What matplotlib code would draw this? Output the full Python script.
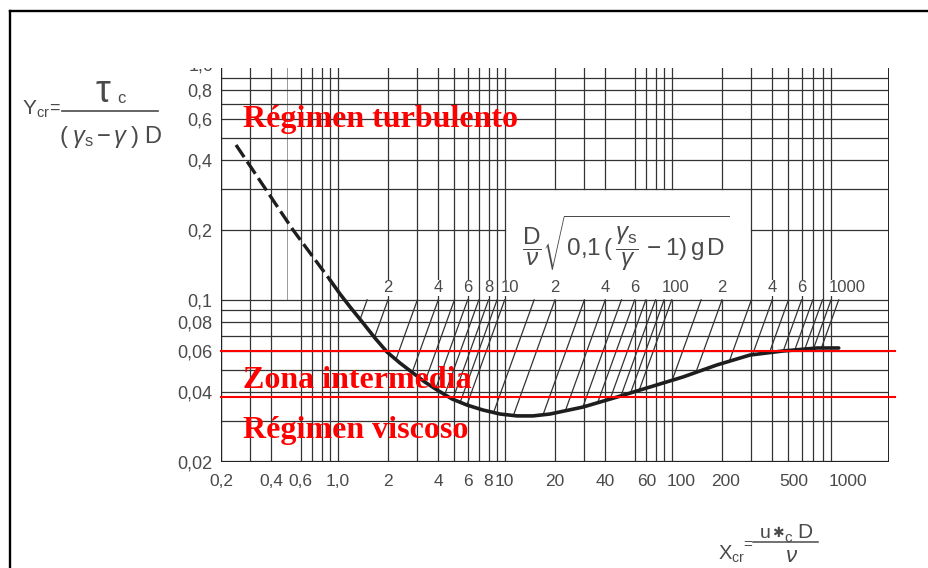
import numpy as np
import matplotlib
matplotlib.use("Agg")
import matplotlib.pyplot as plt
from matplotlib.lines import Line2D
from matplotlib.ticker import NullLocator
from matplotlib.transforms import (Bbox, TransformedBbox,
                                   blended_transform_factory, ScaledTranslation)

# ---------------------------------------------------------------- data
# Shields curve: critical Shields parameter Y_cr against X_cr = u*c D / nu
dashed_x = [0.246, 0.54, 0.9]
dashed_y = [0.465, 0.20, 0.1217]
solid_x = [0.9, 1.032, 1.185, 1.417, 1.672, 1.972, 2.36, 2.82, 3.33, 3.93,
           4.83, 5.94, 7.41, 9.37, 11.85, 14.77, 18.66, 29.4, 47.0, 74.1,
           116.8, 186.6, 294, 464, 741, 1000]
solid_y = [0.1217, 0.106, 0.0932, 0.0795, 0.0684, 0.0596, 0.0534, 0.0484,
           0.0442, 0.0409, 0.0374, 0.0352, 0.0335, 0.0322, 0.0316, 0.0316,
           0.0322, 0.0345, 0.0381, 0.0421, 0.0465, 0.0524, 0.0578, 0.0602,
           0.062, 0.062]

# auxiliary parameter  D/nu * sqrt(0.1 (gs/g - 1) g D)
aux_values = [1.5, 2, 3, 4, 5, 6, 7, 8, 9, 10, 15, 20, 30, 40, 50, 60, 70,
              80, 90, 100, 150, 200, 300, 400, 500, 600, 700, 800, 900, 1000]
aux_label_values = [2, 4, 6, 8, 10, 20, 40, 60, 100, 200, 400, 600, 1000]
aux_label_texts = ["2", "4", "6", "8", "10", "2", "4", "6", "100", "2", "4",
                   "6", "1000"]
aux_base = 0.1

# axis ticks
x_ticks = [0.2, 0.4, 0.6, 1.0, 2, 4, 6, 8, 10, 20, 40, 60, 100, 200, 500, 1000]
x_tick_labels = ["0,2", "0,4", "0,6", "1,0", "2", "4", "6", "8", "10", "20",
                 "40", "60", "100", "200", "500", "1000"]
y_ticks = [0.02, 0.04, 0.06, 0.08, 0.1, 0.2, 0.4, 0.6, 0.8]
y_tick_labels = ["0,02", "0,04", "0,06", "0,08", "0,1", "0,2", "0,4", "0,6",
                 "0,8"]

# regime limits and names
regime_limits = [0.06, 0.038]
regime_names = ["Régimen turbulento", "Zona intermedia", "Régimen viscoso"]

# ---------------------------------------------------------------- style
W, H, DPI = 929, 568, 100
INK = "#333333"
TXT = "#4a4a4a"
FAMILY = ["Liberation Sans", "DejaVu Sans"]

plt.rcParams["font.family"] = FAMILY
plt.rcParams["mathtext.fontset"] = "custom"
plt.rcParams["mathtext.rm"] = "Liberation Sans"
plt.rcParams["mathtext.it"] = "Liberation Sans:italic"
plt.rcParams["mathtext.bf"] = "Liberation Sans:bold"
plt.rcParams["mathtext.sf"] = "Liberation Sans"

fig = plt.figure(figsize=(W / DPI, H / DPI), dpi=DPI)
fig.patch.set_facecolor("white")


def fx(px):
    return px / W


def fy(py):
    return 1 - py / H


def shift(dx_px, dy_px=0):
    return ScaledTranslation(dx_px / DPI, -dy_px / DPI, fig.dpi_scale_trans)


ax = fig.add_axes([fx(221), fy(462), (889 - 221) / W, (462 - 68) / H])
ax.set_xscale("log")
ax.set_yscale("log")
ax.set_xlim(0.2, 2000)
ax.set_ylim(0.02, 0.998)
for s in ax.spines.values():
    s.set_visible(False)

ax.set_xticks(x_ticks, [""] * len(x_ticks))
ax.set_yticks(y_ticks, y_tick_labels)
ax.xaxis.set_minor_locator(NullLocator())
ax.yaxis.set_minor_locator(NullLocator())
ax.tick_params(axis="both", length=0, labelcolor=TXT, labelsize=13)
ax.tick_params(axis="y", pad=6)

# x tick labels (the printed scale sets a few of them slightly to the right)
xlabel_offsets_px = {60: 12, 100: 9, 200: 4, 500: 5, 1000: 9}
xl_tr = blended_transform_factory(ax.transData, ax.transAxes)
for v, t in zip(x_ticks, x_tick_labels):
    ax.text(v, 0, t, ha="center", va="center", fontsize=12.5, color=TXT,
            transform=xl_tr + shift(xlabel_offsets_px.get(v, 0), 20),
            clip_on=False)

# ---------------------------------------------------------------- grid
box_x = (10, 300)      # auxiliary-scale box between 0.1 and 0.3
grid_x = []
for dec in [0.1, 1, 10, 100]:
    for m in range(1, 10):
        v = round(m * dec, 6)
        if 0.2 <= v <= 1000 and v not in (0.5, 50):
            grid_x.append(v)
grid_x = sorted(set(grid_x))

for v in grid_x:
    if box_x[0] < v < box_x[1]:
        ax.plot([v, v], [0.02, 0.1], color=INK, lw=0.9, zorder=1)
        ax.plot([v, v], [0.3, 1.0], color=INK, lw=0.9, zorder=1)
    else:
        ax.axvline(v, color=INK, lw=0.9, zorder=1)
# faint printed line at 0.5 in the upper part only
ax.plot([0.5, 0.5], [0.1, 1.0], color="#9a9a9a", lw=0.7, zorder=1)

grid_y = [0.03, 0.04, 0.05, 0.06, 0.07, 0.08, 0.09, 0.1,
          0.3, 0.4, 0.5, 0.6, 0.7, 0.8, 0.9]
for v in grid_y:
    ax.axhline(v, color=INK, lw=0.9, zorder=1)
ax.plot([0.2, box_x[0]], [0.2, 0.2], color=INK, lw=0.9, zorder=1)
ax.plot([box_x[1], 2000], [0.2, 0.2], color=INK, lw=0.9, zorder=1)

# frame of the chart area
ax.axvline(0.2, color="#222222", lw=1.6, zorder=2)
ax.axvline(2000, color="#222222", lw=1.4, zorder=2)
ax.axhline(0.02, color="#222222", lw=1.6, zorder=2)

# ---------------------------------------------------------------- curve
curve_x = np.array(dashed_x[:-1] + solid_x)
curve_y = np.array(dashed_y[:-1] + solid_y)
lcx, lcy = np.log10(curve_x), np.log10(curve_y)

# auxiliary lines Y = 0.1 (X / P)^2 from the 0.1 line down to the curve
for p in aux_values:
    xs = np.logspace(np.log10(p), np.log10(p) - 1.5, 3000)
    line = aux_base * (xs / p) ** 2
    curve = 10 ** np.interp(np.log10(xs), lcx, lcy)
    below = np.nonzero(line <= curve)[0]
    end = below[0] if below.size else len(xs) - 1
    ax.plot([p, xs[end]], [aux_base, line[end]], color=INK, lw=0.9, zorder=2)

ax.plot(dashed_x, dashed_y, color="#1e1e1e", lw=2.4, dashes=(4.4, 1.6),
        zorder=4)
ax.plot(solid_x, solid_y, color="#1e1e1e", lw=2.6, solid_capstyle="round",
        solid_joinstyle="round", zorder=4)

# auxiliary-scale labels
aux_offsets_px = {10: 5, 100: 4, 1000: 9}
for v, t in zip(aux_label_values, aux_label_texts):
    ax.text(v, 0.1125, t, ha="center", va="center", fontsize=12, color=TXT,
            transform=ax.transData + shift(aux_offsets_px.get(v, 0)),
            zorder=5, bbox=dict(facecolor="white", edgecolor="none", pad=0.6))

# regime limits (extend slightly past the chart frame)
tr = blended_transform_factory(ax.transAxes, ax.transData)
for v in regime_limits:
    ax.plot([0, (895 - 221) / 668], [v, v], color="#ff0000", lw=1.5,
            transform=tr, clip_on=False, zorder=6)

# ---------------------------------------------------------------- texts
name_baselines = [127, 388, 438]
for name, yb in zip(regime_names, name_baselines):
    fig.text(fx(243), fy(yb), name, ha="left", va="baseline",
             family="Liberation Serif", weight="bold", size=23,
             color="#ff0000", zorder=10)

# clipped top label of the y scale
top_lbl = fig.text(fx(214), fy(66), "1,0", ha="right", va="center",
                   size=13, color=TXT)
top_lbl.set_clip_box(TransformedBbox(Bbox.from_extents(0, 0, 1, fy(68)),
                                     fig.transFigure))
top_lbl.set_clip_on(True)

# auxiliary parameter formula inside the box
fig.text(fx(626), fy(243),
         r"$\dfrac{\mathrm{D}}{\nu}\sqrt{0{,}1\,(\,\dfrac{\gamma_{\mathrm{s}}}"
         r"{\gamma}\,-1)\,\mathrm{g\,D}}$",
         ha="center", va="center", size=17.5, color=TXT)

# Y_cr = tau_c / ((gamma_s - gamma) D)
fig.text(fx(22), fy(115), r"$\mathrm{Y_{cr}}$", ha="left", va="baseline",
         size=15, color=TXT)
fig.text(fx(54), fy(108), "=", ha="center", va="center", size=13, color=TXT)
fig.add_artist(Line2D([fx(62), fx(158)], [fy(111), fy(111)], color=TXT,
                      lw=1.2, transform=fig.transFigure))
fig.text(fx(96), fy(102), "\u03c4", ha="left", va="baseline", size=27,
         color=TXT)
fig.text(fx(117), fy(103), "c", ha="left", va="baseline", size=12, color=TXT)
fig.text(fx(110), fy(143),
         r"$(\;\gamma_{\mathrm{s}}\,\mathrm{-}\,\gamma\;)\;\mathrm{D}$",
         ha="center", va="baseline", size=17, color=TXT)

# X_cr = u*c D / nu
fig.text(fx(718), fy(560), r"$\mathrm{X_{cr}}$", ha="left", va="baseline",
         size=14.5, color=TXT)
fig.text(fx(748), fy(545), "=", ha="center", va="center", size=11, color=TXT)
fig.add_artist(Line2D([fx(753), fx(818)], [fy(542), fy(542)], color=TXT,
                      lw=1.1, transform=fig.transFigure))
fig.text(fx(760), fy(538), "u", ha="left", va="baseline", size=14, color=TXT)
fig.text(fx(778), fy(533), "\u2731", ha="center", va="center", size=10,
         color=TXT, family=["DejaVu Sans"])
fig.text(fx(784), fy(542), "c", ha="left", va="baseline", size=11, color=TXT)
fig.text(fx(797), fy(538), "D", ha="left", va="baseline", size=15, color=TXT)
fig.text(fx(791), fy(566.5), r"$\nu$", ha="center", va="bottom", size=16,
         color=TXT)

# outer frame
fig.add_artist(Line2D([fx(10.5), 1], [fy(10.5), fy(10.5)], color="black",
                      lw=1.7, transform=fig.transFigure))
fig.add_artist(Line2D([fx(10.5), fx(10.5)], [fy(10.5), 0], color="black",
                      lw=1.7, transform=fig.transFigure))

fig.savefig("out.png", dpi=DPI, facecolor="white")
